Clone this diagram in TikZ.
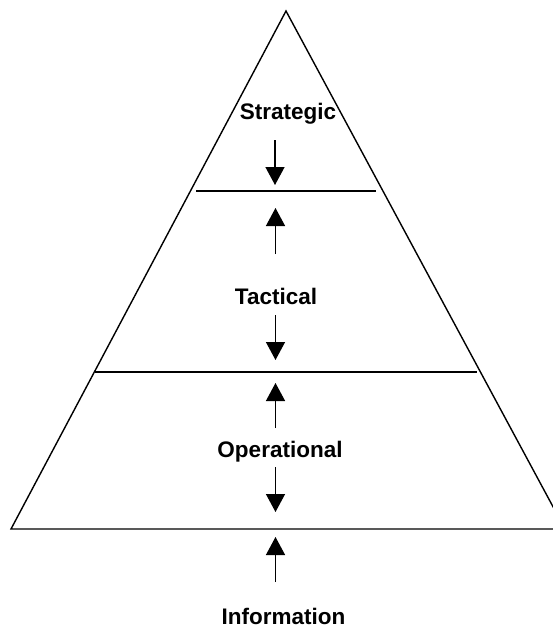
\documentclass[tikz,border=0pt]{standalone}
\usepackage{fontspec}
\setmainfont{Liberation Sans}
\usetikzlibrary{arrows.meta}
\begin{document}
\begin{tikzpicture}[x=1pt,y=-1pt,
  edge/.style={line width=1.4pt},
  flow/.style={line width=1.4pt,-{Triangle[width=19pt,length=18pt]}},
  lbl/.style={font=\fontsize{22.5}{27}\selectfont\bfseries, inner sep=0pt, anchor=base}]
\useasboundingbox (0,0) rectangle (553,630);
\clip (0,0) rectangle (553,630);
% pyramid
\coordinate (apex) at (286,11);
\coordinate (bl) at (11,529);
\coordinate (br) at (565,529);
\draw[edge, line join=miter] (apex) -- (bl) -- (br) -- cycle;
\coordinate (l1a) at (196,191); \coordinate (l1b) at (376,191);
\coordinate (l2a) at (95,372);  \coordinate (l2b) at (477,372);
\draw[edge] (l1a) -- (l1b);
\draw[edge] (l2a) -- (l2b);
% labels
\node[lbl] (strat) at (288,119) {Strategic};
\node[lbl] (tact) at (276,304) {Tactical};
\node[lbl] (oper) at (280,457) {Operational};
\node[lbl] (info) at (283.5,624) {Information};
% arrows
\coordinate (a1s) at (275,140); \coordinate (a1e) at (275,185);
\coordinate (a2s) at (275.5,254); \coordinate (a2e) at (275.5,208);
\coordinate (a3s) at (275.5,315); \coordinate (a3e) at (275.5,360);
\coordinate (a4s) at (275.5,428); \coordinate (a4e) at (275.5,383);
\coordinate (a5s) at (275.5,467); \coordinate (a5e) at (275.5,512);
\coordinate (a6s) at (275.5,582); \coordinate (a6e) at (275.5,537);
\draw[flow] (a1s) -- (a1e);
\draw[flow] (a2s) -- (a2e);
\draw[flow] (a3s) -- (a3e);
\draw[flow] (a4s) -- (a4e);
\draw[flow] (a5s) -- (a5e);
\draw[flow] (a6s) -- (a6e);
\end{tikzpicture}
\end{document}
